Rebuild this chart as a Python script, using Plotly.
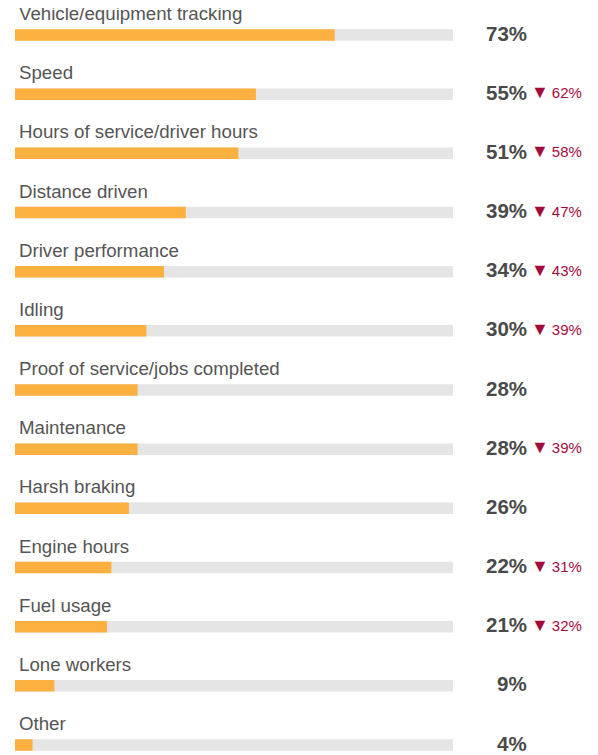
"""Telematics data tracked: horizontal progress bars with prior-year change."""

from plotly import graph_objects as go

# Data.
categories = [
    "Vehicle/equipment tracking",
    "Speed",
    "Hours of service/driver hours",
    "Distance driven",
    "Driver performance",
    "Idling",
    "Proof of service/jobs completed",
    "Maintenance",
    "Harsh braking",
    "Engine hours",
    "Fuel usage",
    "Lone workers",
    "Other",
]
values = [73, 55, 51, 39, 34, 30, 28, 28, 26, 22, 21, 9, 4]
previous = [None, 62, 58, 47, 43, 39, None, 39, None, 31, 32, None, None]

# Layout constants (pixels, inside the figure; the page adds an 8px body margin).
WIDTH, HEIGHT = 598, 755
LEFT, RIGHT = 7, 153
ROW_PX = 59.17
FIRST_ROW_PX = 27
BAR_PX = 11.5
FONT = "Liberation Sans, Arial"

rows = list(range(len(categories)))
plot_w = WIDTH - LEFT - RIGHT
y_top = -FIRST_ROW_PX / ROW_PX
y_bottom = y_top + HEIGHT / ROW_PX


def px_to_paper(px):
    # px measured in the page, so remove the body margin.
    return (px - 8 - LEFT) / plot_w


figure = go.Figure()

# Grey track.
figure.add_trace(
    go.Bar(
        x=[100] * len(rows),
        y=rows,
        orientation="h",
        width=BAR_PX / ROW_PX,
        marker=dict(color="#e5e5e5", line=dict(width=0)),
        hoverinfo="skip",
    )
)
# Values.
figure.add_trace(
    go.Bar(
        x=values,
        y=rows,
        orientation="h",
        width=BAR_PX / ROW_PX,
        marker=dict(color="#fbb040", line=dict(width=0)),
        hoverinfo="skip",
    )
)

annotations = []
for row, name, value, prev in zip(rows, categories, values, previous):
    # Category label above the bar.
    annotations.append(
        dict(
            x=0,
            y=row - 21.5 / ROW_PX,
            xref="paper",
            yref="y",
            xanchor="left",
            yanchor="middle",
            xshift=2,
            text=name,
            showarrow=False,
            font=dict(family=FONT, size=18.7, color="#555555"),
        )
    )
    # Current value.
    annotations.append(
        dict(
            x=px_to_paper(529),
            y=row,
            xref="paper",
            yref="y",
            xanchor="right",
            yanchor="middle",
            yshift=2,
            text="<b>%d%%</b>" % value,
            showarrow=False,
            font=dict(family=FONT, size=20.5, color="#4a4a4a"),
        )
    )
    # Previous value with down arrow.
    if prev is not None:
        annotations.append(
            dict(
                x=px_to_paper(529),
                y=row,
                xref="paper",
                yref="y",
                xanchor="left",
                yanchor="middle",
                yshift=2,
                text="<span style='font-size:18px'>▼</span>\u2009%d%%" % prev,
                showarrow=False,
                font=dict(family=FONT, size=15, color="#a50a3c"),
            )
        )

figure.update_layout(
    width=WIDTH,
    height=HEIGHT,
    margin=dict(l=LEFT, r=RIGHT, t=0, b=0, pad=0),
    barmode="overlay",
    showlegend=False,
    plot_bgcolor="white",
    paper_bgcolor="white",
    annotations=annotations,
)
figure.update_xaxes(range=[0, 100], visible=False, fixedrange=True)
figure.update_yaxes(range=[y_bottom, y_top], visible=False, fixedrange=True)

figure.write_html("out.html")
